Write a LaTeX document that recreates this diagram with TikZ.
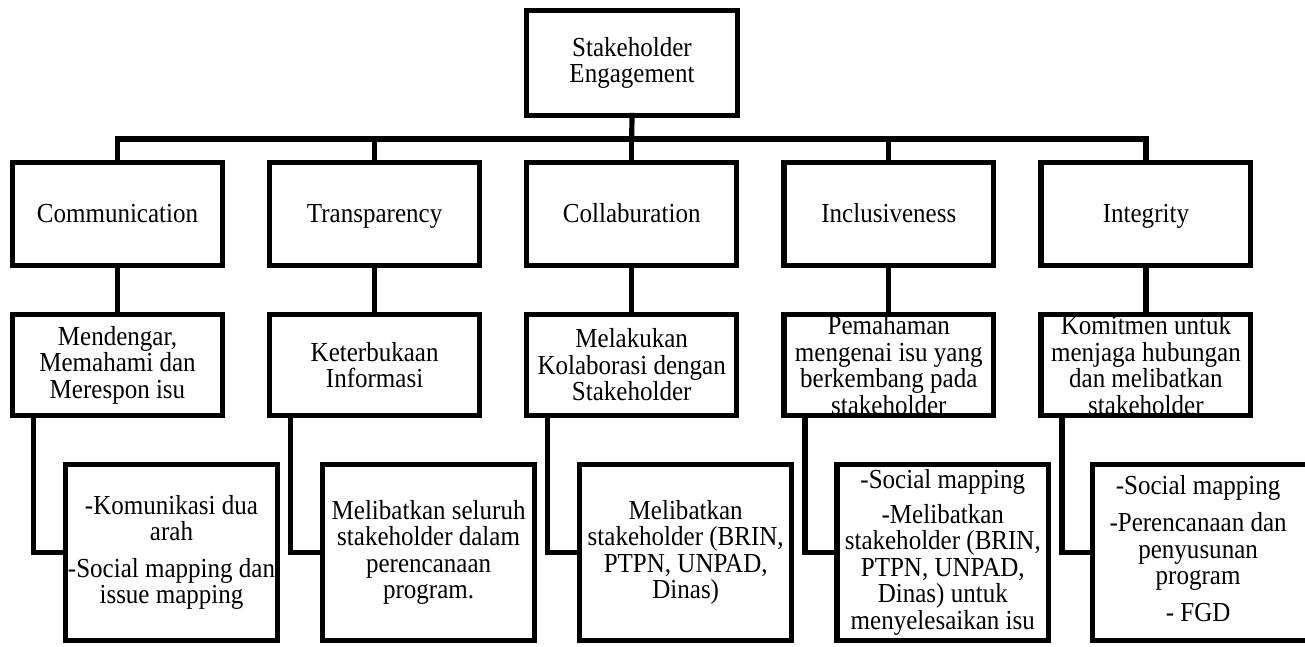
\documentclass[tikz,border=0pt]{standalone}
\usepackage{fontspec}
\setmainfont{Liberation Serif}[FakeStretch=0.91]
\begin{document}
\begin{tikzpicture}[x=1pt,y=-1pt,
  box/.style={draw, line width=5.2pt, outer sep=0pt, inner sep=0pt, align=center,
    font=\fontsize{27.5}{26.5}\selectfont},
  lone/.style={box, minimum width=209.8pt, minimum height=102.8pt, text height=20pt, text depth=3pt},
  ltwo/.style={box, minimum width=209.8pt, minimum height=100.8pt},
  lthree/.style={box, minimum width=211.8pt, minimum height=175.8pt},
  conn/.style={line width=5.2pt, line cap=rect},
]
\useasboundingbox (0,0) rectangle (1305,646);

% root
\node[box, minimum width=210.8pt, minimum height=104.8pt] (top) at (632,63) {Stakeholder\\Engagement};

% level 1
\node[lone] (c1) at (117.5,214) {Communication};
\node[lone] (c2) at (374.6,214) {Transparency};
\node[lone] (c3) at (631.7,214) {Collaburation};
\node[lone] (c4) at (888.8,214) {Inclusiveness};
\node[lone] (c5) at (1145.9,214) {Integrity};

% level 2
\node[ltwo] (d1) at (117.5,365) {Mendengar,\\Memahami dan\\Merespon isu};
\node[ltwo] (d2) at (374.6,365) {Keterbukaan\\Informasi};
\node[ltwo] (d3) at (631.7,365) {Melakukan\\Kolaborasi dengan\\Stakeholder};
\node[ltwo] (d4) at (888.8,365) {Pemahaman\\mengenai isu yang\\berkembang pada\\stakeholder};
\node[ltwo] (d5) at (1145.9,365) {Komitmen untuk\\menjaga hubungan\\dan melibatkan\\stakeholder};

% level 3
\node[lthree] (e1) at (171.5,552.5) {-Komunikasi dua\\arah\\[10pt]-Social mapping dan\\issue mapping};
\node[lthree] (e2) at (428.6,552.5) {Melibatkan seluruh\\stakeholder dalam\\perencanaan\\program.};
\node[lthree] (e3) at (685.7,552.5) {Melibatkan\\stakeholder (BRIN,\\PTPN, UNPAD,\\Dinas)};
\node[lthree] (e4) at (942.8,552.5) {-Social mapping\\[8pt]-Melibatkan\\stakeholder (BRIN,\\PTPN, UNPAD,\\Dinas) untuk\\menyelesaikan isu};
\node[lthree, minimum width=222pt] (e5) at (1203.6,552.5) {\hspace*{-11pt}\begin{tabular}{@{}c@{}}-Social mapping\\[10pt]-Perencanaan dan\\penyusunan\\program\\[10pt]- FGD\end{tabular}};

% connectors root -> level 1
\coordinate (bar) at (631.7,139);
\draw[conn] (top.south) -- (bar);
\draw[conn] (c1.north) |- (bar);
\draw[conn] (c2.north) |- (bar);
\draw[conn] (c3.north) -- (bar);
\draw[conn] (c4.north) |- (bar);
\draw[conn] (c5.north) |- (bar);

% level 1 -> level 2
\draw[conn] (c1.south) -- (d1.north);
\draw[conn] (c2.south) -- (d2.north);
\draw[conn] (c3.south) -- (d3.north);
\draw[conn] (c4.south) -- (d4.north);
\draw[conn] (c5.south) -- (d5.north);

% level 2 -> level 3
\draw[conn] ([xshift=21pt]d1.south west) |- (e1.west);
\draw[conn] ([xshift=21pt]d2.south west) |- (e2.west);
\draw[conn] ([xshift=21pt]d3.south west) |- (e3.west);
\draw[conn] ([xshift=21pt]d4.south west) |- (e4.west);
\draw[conn] ([xshift=21pt]d5.south west) |- (e5.west);
\end{tikzpicture}
\end{document}
